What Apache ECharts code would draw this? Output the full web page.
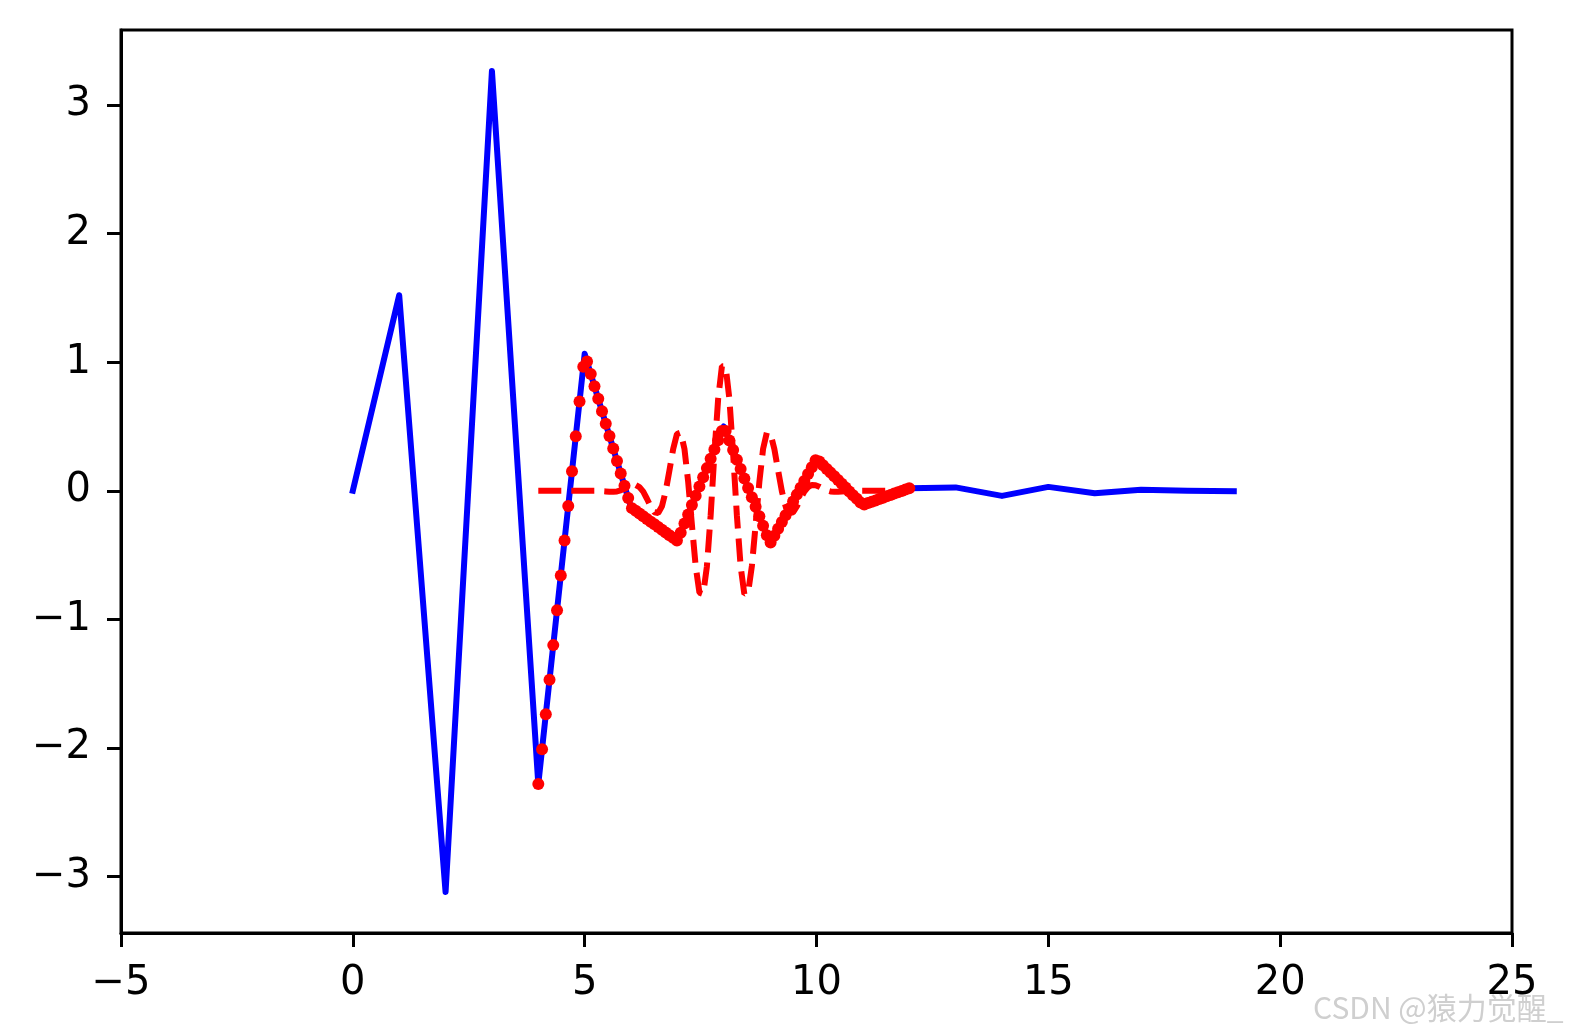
<!DOCTYPE html>
<html>
<head>
<meta charset="utf-8">
<script src="https://cdn.jsdelivr.net/npm/echarts@6/dist/echarts.min.js"></script>
<style>
  html, body { margin: 0; padding: 0; background: #fff; }
  #chart { width: 1572px; height: 1035px; }
</style>
</head>
<body>
<div id="chart"></div>
<script>
// blue signal, one value per integer x
const blueX = [0, 1, 2, 3, 4, 5, 6, 7, 8, 9, 10, 11, 12, 13, 14, 15, 16, 17, 18, 19]
const blueY = [0, 1.52, -3.119, 3.263, -2.28, 1.065, -0.13, -0.39, 0.5, -0.41, 0.25, -0.11, 0.02, 0.026, -0.04, 0.03, -0.02, 0.008, 0, -0.003]

// red samples between 4 and 12
const sampleX = [
  4.000, 4.081, 4.162, 4.242, 4.323, 4.404, 4.485, 4.566, 4.646, 4.727,
  4.808, 4.889, 4.970, 5.051, 5.131, 5.212, 5.293, 5.374, 5.455, 5.535,
  5.616, 5.697, 5.778, 5.859, 5.939, 6.020, 6.101, 6.182, 6.263, 6.343,
  6.424, 6.505, 6.586, 6.667, 6.747, 6.828, 6.909, 6.990, 7.071, 7.152,
  7.232, 7.313, 7.394, 7.475, 7.556, 7.636, 7.717, 7.798, 7.879, 7.960,
  8.040, 8.121, 8.202, 8.283, 8.364, 8.444, 8.525, 8.606, 8.687, 8.768,
  8.848, 8.929, 9.010, 9.091, 9.172, 9.253, 9.333, 9.414, 9.495, 9.576,
  9.657, 9.737, 9.818, 9.899, 9.980, 10.061, 10.141, 10.222, 10.303, 10.384,
  10.465, 10.545, 10.626, 10.707, 10.788, 10.869, 10.949, 11.030, 11.111, 11.192,
  11.273, 11.354, 11.434, 11.515, 11.596, 11.677, 11.758, 11.838, 11.919, 12.000
]
// red dots
const dotY = [
  -2.28, -2.009, -1.738, -1.47, -1.2, -0.929, -0.658, -0.387, -0.119, 0.152,
  0.423, 0.694, 0.964, 1.004, 0.908, 0.812, 0.715, 0.618, 0.521, 0.426,
  0.329, 0.232, 0.135, 0.039, -0.057, -0.135, -0.156, -0.177, -0.198, -0.219,
  -0.24, -0.261, -0.282, -0.303, -0.324, -0.345, -0.366, -0.387, -0.327, -0.255,
  -0.184, -0.111, -0.039, 0.033, 0.105, 0.176, 0.248, 0.32, 0.392, 0.464,
  0.464, 0.39, 0.316, 0.242, 0.169, 0.096, 0.022, -0.051, -0.125, -0.199,
  -0.272, -0.345, -0.403, -0.35, -0.296, -0.243, -0.19, -0.137, -0.083, -0.03,
  0.024, 0.076, 0.13, 0.183, 0.237, 0.228, 0.199, 0.17, 0.141, 0.112,
  0.083, 0.054, 0.025, -0.005, -0.034, -0.063, -0.092, -0.106, -0.096, -0.085,
  -0.075, -0.064, -0.054, -0.043, -0.033, -0.022, -0.011, -0.001, 0.009, 0.02
]
// red dashed
const dashY = [
  0, 0, 0, 0, 0, 0, 0, 0, 0, 0,
  0, 0, 0, 0, 0, 0, 0, -0.003, -0.005, -0.008,
  -0.008, -0.005, 0.003, 0.016, 0.031, 0.043, 0.045, 0.029, -0.007, -0.062,
  -0.122, -0.167, -0.173, -0.121, -0.004, 0.158, 0.325, 0.441, 0.452, 0.326,
  0.07, -0.265, -0.586, -0.792, -0.803, -0.589, -0.192, 0.287, 0.715, 0.967,
  0.967, 0.715, 0.287, -0.192, -0.589, -0.803, -0.792, -0.586, -0.265, 0.07,
  0.326, 0.452, 0.441, 0.325, 0.158, -0.004, -0.121, -0.173, -0.167, -0.122,
  -0.062, -0.007, 0.029, 0.045, 0.043, 0.031, 0.016, 0.003, -0.005, -0.008,
  -0.008, -0.005, -0.003, 0, 0, 0, 0, 0, 0, 0,
  0, 0, 0, 0, 0, 0, 0, 0, 0, 0
]

const xTicks = [-5, 0, 5, 10, 15, 20, 25]
const yTicks = [-3, -2, -1, 0, 1, 2, 3]

const pair = (xs, ys) => xs.map((x, i) => [x, ys[i]])
const minus = (v) => String(v).replace('-', '\u2212')

const myChart = echarts.init(document.getElementById('chart'))
const labelFont = {
  color: '#000',
  fontSize: 40,
  fontFamily: 'DejaVu Sans'
}
const option = {
  animation: false,
  backgroundColor: '#fff',
  grid: {
    left: 121,
    right: 60,
    top: 30,
    bottom: 102,
    show: true,
    borderColor: '#000',
    borderWidth: 3
  },
  xAxis: {
    type: 'value',
    min: -5,
    max: 25,
    interval: 5,
    axisLine: { onZero: false, lineStyle: { color: '#000', width: 3 } },
    axisTick: { length: 14, lineStyle: { color: '#000', width: 3 } },
    axisLabel: Object.assign({ margin: 31, formatter: minus, customValues: xTicks }, labelFont),
    splitLine: { show: false }
  },
  yAxis: {
    type: 'value',
    min: -3.438,
    max: 3.582,
    axisLine: { show: true, onZero: false, lineStyle: { color: '#000', width: 3 } },
    axisTick: { show: true, length: 14, lineStyle: { color: '#000', width: 3 }, customValues: yTicks },
    axisLabel: Object.assign({ margin: 30, formatter: minus, customValues: yTicks }, labelFont),
    splitLine: { show: false }
  },
  series: [
    {
      type: 'line',
      data: pair(blueX, blueY),
      showSymbol: false,
      lineStyle: { color: '#0000ff', width: 6, join: 'round', cap: 'square' },
      z: 1
    },
    {
      type: 'scatter',
      data: pair(sampleX, dotY),
      symbol: 'circle',
      symbolSize: 12,
      itemStyle: { color: '#ff0000', opacity: 1 },
      z: 2
    },
    {
      type: 'line',
      data: pair(sampleX, dashY),
      showSymbol: false,
      lineStyle: { color: '#ff0000', width: 6, type: [23, 10], cap: 'butt' },
      z: 3
    }
  ],
  graphic: [
    {
      type: 'text',
      right: 8,
      bottom: 12,
      style: {
        text: 'CSDN @猿力觉醒_',
        fontSize: 30,
        fontFamily: 'Liberation Sans Narrow, Noto Sans CJK SC',
        fill: '#cfcfcf',
        stroke: '#fff',
        lineWidth: 1
      }
    }
  ]
}
myChart.setOption(option)
</script>
</body>
</html>
